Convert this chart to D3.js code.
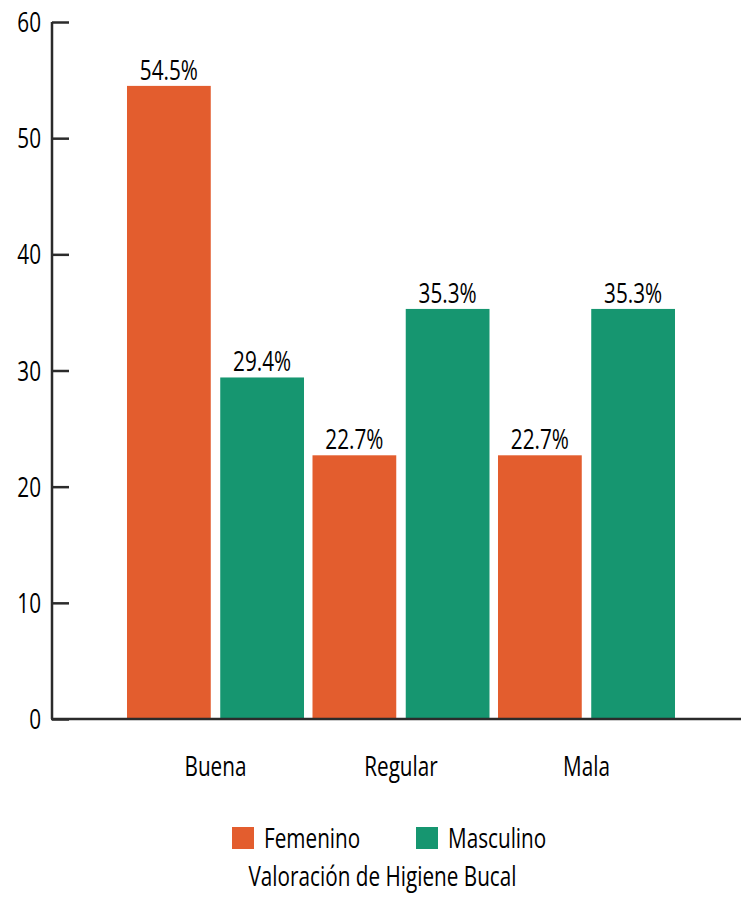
<!DOCTYPE html>
<html><head><meta charset="utf-8">
<script src="https://cdn.jsdelivr.net/npm/d3@7"></script>
<style>body{margin:0;background:#fff;} text{font-family:"Open Sans","Noto Sans",sans-serif;fill:#000;}</style>
</head><body>
<script>
const categories = ["Buena", "Regular", "Mala"];
const seriesNames = ["Femenino", "Masculino"];
const femenino = [54.5, 22.7, 22.7];
const masculino = [29.4, 35.3, 35.3];
const yTicks = [0, 10, 20, 30, 40, 50, 60];
const colors = ["#E35D2E", "#169670"];
const axisTitle = "Valoración de Higiene Bucal";

const W = 741, H = 897;
const SX = 0.74; // horizontal condensing to mimic a condensed typeface
const FS = 28;
const svg = d3.select("body").append("svg").attr("width", W).attr("height", H);

function ctext(parent, x, yv, str, anchor) {
  return parent.append("text")
    .attr("transform", `translate(${x},${yv}) scale(${SX},1)`)
    .attr("text-anchor", anchor || "start")
    .attr("font-size", FS).text(str);
}

const y = d3.scaleLinear().domain([0, 60]).range([719, 22]);
const x0 = d3.scaleBand().domain(categories).range([122.75, 679.25]).paddingInner(0.0458).paddingOuter(0.0229);
const x1 = d3.scaleBand().domain(seriesNames).range([0, x0.bandwidth()]).paddingInner(0.1017).paddingOuter(0);

const data = categories.map((c, i) => ({cat: c, vals: [femenino[i], masculino[i]]}));

// bars
const g = svg.append("g");
const groups = g.selectAll("g.grp").data(data).join("g").attr("transform", d => `translate(${x0(d.cat)},0)`);
groups.selectAll("rect").data(d => d.vals.map((v, j) => ({s: seriesNames[j], v, j})))
  .join("rect")
  .attr("x", d => x1(d.s)).attr("width", x1.bandwidth())
  .attr("y", d => y(d.v)).attr("height", d => y(0) - y(d.v))
  .attr("fill", d => colors[d.j]);
groups.each(function(d) {
  const grp = d3.select(this);
  d.vals.forEach((v, j) => {
    ctext(grp, x1(seriesNames[j]) + x1.bandwidth() / 2, y(v) - 6, v.toFixed(1) + "%", "middle");
  });
});

// y axis
const yAxis = d3.axisRight(y).tickValues(yTicks).tickSize(17).tickFormat("");
const ya = svg.append("g").attr("transform", "translate(52,0)").call(yAxis);
ya.select(".domain").attr("stroke", "#2b2b2b").attr("stroke-width", 2.5).attr("d", `M0,${y(60)}V${y(0)}`);
ya.selectAll(".tick line").attr("stroke", "#2b2b2b").attr("stroke-width", 2.5);
const yl = svg.append("g");
yTicks.forEach(t => ctext(yl, 41, y(t) + 10, String(t), "end"));

// baseline
svg.append("line").attr("x1", 51).attr("x2", W).attr("y1", y(0)).attr("y2", y(0))
  .attr("stroke", "#2b2b2b").attr("stroke-width", 2.5);

// x labels
const xAxis = d3.axisBottom(x0).tickSize(0);
const xa = svg.append("g").attr("transform", `translate(0,${y(0)})`).call(xAxis);
xa.select(".domain").remove();
xa.selectAll("text").attr("font-size", FS).attr("y", 57).attr("dy", 0)
  .attr("transform", `scale(${SX},1)`)
  .attr("font-family", "'Open Sans','Noto Sans',sans-serif").attr("fill", "#000");

// legend
const legX = [232, 416];
const leg = svg.append("g").selectAll("g").data(seriesNames).join("g")
  .attr("transform", (d, i) => `translate(${legX[i]},827)`);
leg.append("rect").attr("width", 22).attr("height", 22).attr("fill", (d, i) => colors[i]);
leg.each(function(d) { ctext(d3.select(this), 32, 21, d, "start"); });

ctext(svg, 382.5, 886, axisTitle, "middle");
</script>
</body></html>
